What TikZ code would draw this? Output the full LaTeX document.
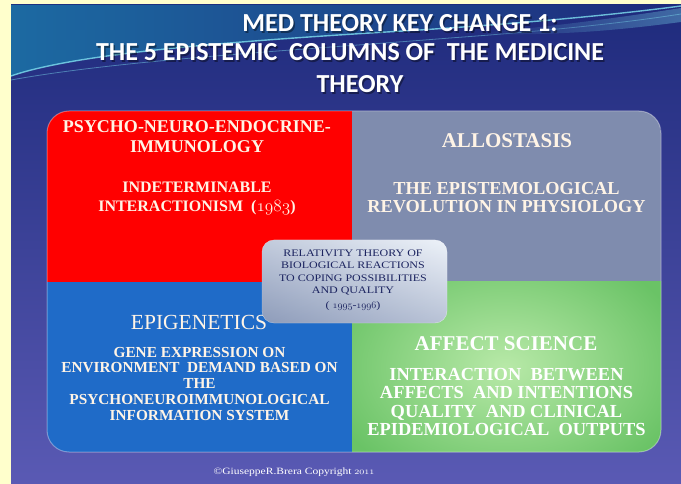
\documentclass[tikz,border=0pt]{standalone}
\usepackage{fontspec}
\newfontfamily\titlefont{Carlito}
\newfontfamily\qfont{Liberation Serif}
\newfontfamily\cwide[FakeStretch=1.2]{Liberation Serif}
\newcommand\osn[1]{$\mathgroup\symletters #1$}
\definecolor{yellowbg}{HTML}{FFFFCC}
\definecolor{bgtop}{HTML}{1E2A7C}
\definecolor{bgmid}{HTML}{262583}
\definecolor{bgbot}{HTML}{5A5AB4}
\definecolor{tealbg}{HTML}{1C6EA4}
\definecolor{wave}{HTML}{7FE0F0}
\definecolor{qred}{HTML}{FF0000}
\definecolor{qgray}{HTML}{7F8CAE}
\definecolor{qblue}{HTML}{1F6BC8}
\definecolor{greenin}{HTML}{B8E9A8}
\definecolor{greenout}{HTML}{6AC366}
\definecolor{cream}{HTML}{FFF4E6}
\definecolor{navytext}{HTML}{1C2460}
\definecolor{boxlight}{HTML}{EDF2F9}
\definecolor{boxdark}{HTML}{8E9CBA}
\tikzset{
  titletext/.style={text=white, anchor=base, inner sep=0pt, font=\titlefont\bfseries\fontsize{26}{30}\selectfont},
  titleshadow/.style={text=black, opacity=0.4, anchor=base, inner sep=0pt, font=\titlefont\bfseries\fontsize{26}{30}\selectfont},
  qtext/.style={text=cream, align=center, anchor=north, inner sep=0pt},
  ctext/.style={text=navytext, align=center, anchor=north, inner sep=0pt},
}
\begin{document}
\begin{tikzpicture}[x=1pt,y=-1pt]
\useasboundingbox (0,0) rectangle (681,484);
% page and slide background
\fill[yellowbg] (0,0) rectangle (681,484);
\shade[top color=bgtop, middle color=bgmid, bottom color=bgbot] (11,5) rectangle (681,484);
% teal top-left region above the wave
\shade[left color=tealbg, right color=bgtop, opacity=0.95]
  (11,5) -- (11,76) .. controls (80,52) and (250,40) .. (420,30) .. controls (540,22) and (620,14) .. (681,6) -- (681,5) -- cycle;
% wave lines
\draw[wave, line width=1.4pt, opacity=0.8]
  (11,76) .. controls (80,52) and (250,40) .. (420,30) .. controls (540,22) and (620,14) .. (681,6);
\draw[wave, line width=0.8pt, opacity=0.45]
  (11,80) .. controls (120,60) and (300,50) .. (450,38) .. controls (560,30) and (630,22) .. (681,14);
\shade[left color=bgtop, right color=wave, opacity=0.35]
  (470,34) .. controls (560,26) and (630,16) .. (681,8) -- (681,22) .. controls (620,30) and (560,36) .. (470,34);
% title
\node[titleshadow] at (401.5,33.5) {MED THEORY KEY CHANGE 1:};
\node[titletext] (t1) at (400,32) {MED THEORY KEY CHANGE 1:};
\node[titleshadow] at (351.5,62.5) {THE 5 EPISTEMIC~ COLUMNS OF~ THE MEDICINE};
\node[titletext] (t2) at (350,61) {THE 5 EPISTEMIC~ COLUMNS OF~ THE MEDICINE};
\node[titleshadow] at (361.5,94.5) {THEORY};
\node[titletext] (t3) at (360,93) {THEORY};
% quadrants
\begin{scope}
  \clip[rounded corners=22pt] (47,111) rectangle (661,452);
  \fill[qred] (47,111) rectangle (352,282);
  \fill[qgray] (352,111) rectangle (661,282);
  \fill[qblue] (47,282) rectangle (352,452);
  \begin{scope}
    \clip (352,282) rectangle (661,452);
    \shade[inner color=greenin, outer color=greenout] (320,240) rectangle (690,494);
  \end{scope}
\end{scope}
\draw[white, opacity=0.35, line width=1pt, rounded corners=22pt] (47,111) rectangle (661,452);
% quadrant texts
\node[qtext, font=\qfont\bfseries\fontsize{18}{20}\selectfont] (pnei) at (197,120)
  {PSYCHO-NEURO-ENDOCRINE-\\IMMUNOLOGY};
\node[qtext, font=\qfont\bfseries\fontsize{16}{19}\selectfont] (indet) at (197,181.7)
  {INDETERMINABLE\\INTERACTIONISM~~(\osn{1983})};
\node[qtext, font=\qfont\bfseries\fontsize{21}{22}\selectfont] (allo) at (507,133) {ALLOSTASIS};
\node[qtext, font=\qfont\bfseries\fontsize{18.3}{18}\selectfont] (revo) at (506.5,182)
  {THE EPISTEMOLOGICAL\\REVOLUTION IN PHYSIOLOGY};
\node[qtext, font=\qfont\fontsize{21.5}{22}\selectfont] (epi) at (199,315) {EPIGENETICS};
\node[qtext, font=\qfont\bfseries\fontsize{15.3}{15.8}\selectfont] (gene) at (199.5,346.7)
  {GENE EXPRESSION ON\\ENVIRONMENT~~DEMAND BASED ON\\THE\\PSYCHONEUROIMMUNOLOGICAL\\INFORMATION SYSTEM};
\node[qtext, text=white, font=\qfont\bfseries\fontsize{21}{22}\selectfont] (aff) at (506,336.7) {AFFECT SCIENCE};
\node[qtext, text=white, font=\qfont\bfseries\fontsize{18.4}{18.5}\selectfont] (inter) at (506.5,368)
  {INTERACTION~ BETWEEN\\AFFECTS~ AND INTENTIONS\\QUALITY~ AND CLINICAL\\EPIDEMIOLOGICAL~ OUTPUTS};
% central box
\shade[top color=boxlight, bottom color=boxdark, rounded corners=12pt, draw=white, draw opacity=0.6]
  (262,240) rectangle (447,323);
\shade[left color=boxdark, right color=boxlight, opacity=0.45, rounded corners=12pt]
  (262,240) rectangle (447,323);
\node[ctext, font=\cwide\fontsize{10}{12.5}\selectfont] (rel) at (353,249.3)
  {RELATIVITY THEORY OF\\BIOLOGICAL REACTIONS\\TO COPING POSSIBILITIES\\AND QUALITY\\[2pt]( \osn{1995}-\osn{1996})};
% copyright
\node[anchor=base, inner sep=0pt, text=white, font=\cwide\fontsize{9.6}{10}\selectfont] (copy) at (294,474.5)
  {\textcopyright GiuseppeR.Brera Copyright \osn{2011}};
\end{tikzpicture}
\end{document}
